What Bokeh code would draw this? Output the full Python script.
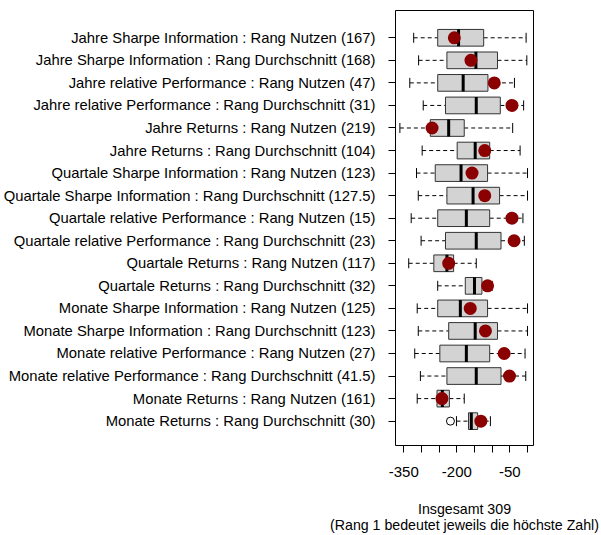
import math
from bokeh.plotting import figure
from bokeh.models import Range1d, FixedTicker, ColumnDataSource
from bokeh.embed import file_html
from bokeh.resources import INLINE

labels = [
    "Jahre Sharpe Information : Rang Nutzen (167)",
    "Jahre Sharpe Information : Rang Durchschnitt (168)",
    "Jahre relative Performance : Rang Nutzen (47)",
    "Jahre relative Performance : Rang Durchschnitt (31)",
    "Jahre Returns : Rang Nutzen (219)",
    "Jahre Returns : Rang Durchschnitt (104)",
    "Quartale Sharpe Information : Rang Nutzen (123)",
    "Quartale Sharpe Information : Rang Durchschnitt (127.5)",
    "Quartale relative Performance : Rang Nutzen (15)",
    "Quartale relative Performance : Rang Durchschnitt (23)",
    "Quartale Returns : Rang Nutzen (117)",
    "Quartale Returns : Rang Durchschnitt (32)",
    "Monate Sharpe Information : Rang Nutzen (125)",
    "Monate Sharpe Information : Rang Durchschnitt (123)",
    "Monate relative Performance : Rang Nutzen (27)",
    "Monate relative Performance : Rang Durchschnitt (41.5)",
    "Monate Returns : Rang Nutzen (161)",
    "Monate Returns : Rang Durchschnitt (30)",
]
lower_whisker = [-322, -308, -333, -295, -361, -298, -314, -309, -329, -301, -336, -254, -312, -309, -319, -303, -312, -201]
q1 = [-254, -228, -254, -232, -275, -199, -261, -228, -254, -232, -265, -176, -254, -223, -248, -228, -256, -167]
median = [-195, -146, -182, -145, -223, -148, -188, -154, -173, -145, -228, -150, -190, -148, -173, -145, -241, -159]
q3 = [-124, -85, -112, -77, -179, -107, -113, -79, -107, -75, -209, -129, -113, -85, -107, -75, -221, -141]
upper_whisker = [-4, -2, -37, -11, -42, -21, 0, 0, -13, -9, -145, -100, 0, 0, -7, -5, -179, -105]
highlight = [-207, -160, -94, -44, -270, -121, -157, -121, -44, -38, -223, -113, -162, -119, -66, -51, -242, -132]
outlier_row = [18]
outlier_value = [-218]
x_ticks = [-350, -300, -250, -200, -150, -100, -50, 0]
x_tick_labels = ["-350", "", "", "-200", "", "", "-50", ""]
xlabel_line1 = "Insgesamt 309"
xlabel_line2 = "(Rang 1 bedeutet jeweils die höchste Zahl)"

n = len(labels)
ypos = [n - i for i in range(n)]
src = ColumnDataSource(dict(y=ypos, lo=lower_whisker, q1=q1, med=median, q3=q3,
                            hi=upper_whisker, pt=highlight))

FONT = "Liberation Sans"
p = figure(frame_width=138, frame_height=435,
           x_range=Range1d(-373.4, 16.9), y_range=Range1d(-0.08, 19.21),
           output_backend="svg", toolbar_location=None,
           min_border_left=395, min_border_right=68, min_border_top=10, min_border_bottom=0)
p.xgrid.grid_line_color = None
p.ygrid.grid_line_color = None
p.outline_line_color = "black"
p.outline_line_alpha = 1
p.outline_line_width = 1
p.background_fill_color = "white"
p.border_fill_color = "white"

p.xaxis.ticker = FixedTicker(ticks=x_ticks)
p.xaxis.major_label_overrides = {float(t): s for t, s in zip(x_ticks, x_tick_labels)}
p.yaxis.ticker = FixedTicker(ticks=ypos)
p.yaxis.major_label_overrides = {float(y): s for y, s in zip(ypos, labels)}
for ax in (p.xaxis[0], p.yaxis[0]):
    ax.axis_line_color = None
    ax.minor_tick_line_color = None
    ax.major_tick_in = 0
    ax.major_tick_out = 7
    ax.major_tick_line_color = "black"
    ax.major_label_text_font = FONT
    ax.major_label_text_color = "black"
p.xaxis.major_label_text_font_size = "15px"
p.yaxis.major_label_text_font_size = "14.8px"
p.yaxis.major_label_standoff = 13
p.xaxis.major_label_standoff = 14

p.xaxis.axis_label = xlabel_line1 + "\n" + xlabel_line2
p.xaxis.axis_label_text_font = FONT
p.xaxis.axis_label_text_font_size = "14.2px"
p.xaxis.axis_label_text_font_style = "normal"
p.xaxis.axis_label_text_color = "black"
p.xaxis.axis_label_text_line_height = 1.05
p.xaxis.axis_label_standoff = 21

dash = "4 3"
p.segment(x0="lo", y0="y", x1="q1", y1="y", source=src, line_color="black", line_dash=dash, line_width=1)
p.segment(x0="q3", y0="y", x1="hi", y1="y", source=src, line_color="black", line_dash=dash, line_width=1)
p.scatter(x="lo", y="y", source=src, marker="dash", angle=math.pi / 2, size=10, line_color="black", line_width=1)
p.scatter(x="hi", y="y", source=src, marker="dash", angle=math.pi / 2, size=10, line_color="black", line_width=1)
p.hbar(y="y", left="q1", right="q3", height=0.74, source=src,
       fill_color="#d3d3d3", line_color="#333333", line_width=1)
p.scatter(x="med", y="y", source=src, marker="dash", angle=math.pi / 2, size=17, line_color="black", line_width=3)
p.scatter(x=outlier_value, y=[n + 1 - r for r in outlier_row], marker="circle", size=8,
          fill_color=None, line_color="black", line_width=1)
p.scatter(x="pt", y="y", source=src, marker="circle", size=13, fill_color="#8b0000", line_color=None)

open("out.html", "w").write(file_html(p, INLINE))
